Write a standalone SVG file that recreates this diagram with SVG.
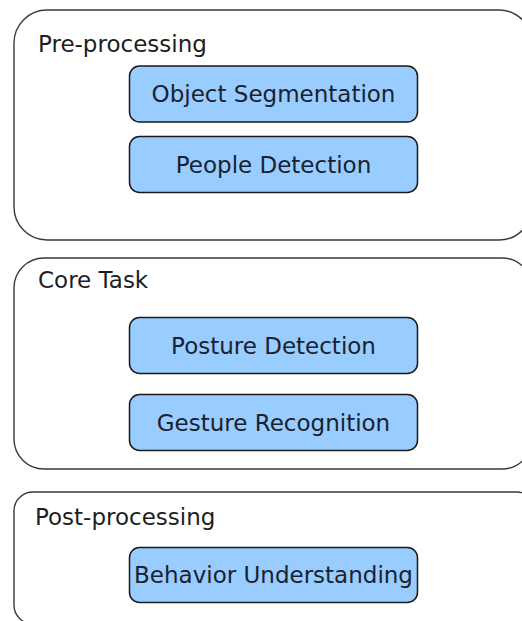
<svg xmlns="http://www.w3.org/2000/svg" width="522" height="621" viewBox="0 0 522 621">
<style>
.grp{fill:#ffffff;stroke:#3a3a3a;stroke-width:1.4}
.box{fill:#99ccff;stroke:#1a1a1a;stroke-width:1.5}
.lbl{font-family:"DejaVu Sans",sans-serif;font-size:23px;fill:#1e1e1e}
.txt{font-family:"DejaVu Sans",sans-serif;font-size:23px;fill:#1a2230;text-anchor:middle}
</style>
<rect width="522" height="621" fill="#ffffff"/>
<g id="pre-processing">
<rect class="grp" x="14" y="10" width="518" height="230" rx="33" ry="33"/>
<text class="lbl" x="38" y="52">Pre-processing</text>
</g>
<g id="object-segmentation">
<rect class="box" x="129.5" y="66" width="288" height="56" rx="10" ry="10"/>
<text class="txt" x="273.5" y="102">Object Segmentation</text>
</g>
<g id="people-detection">
<rect class="box" x="129.5" y="136.5" width="288" height="56" rx="10" ry="10"/>
<text class="txt" x="273.5" y="172.5">People Detection</text>
</g>
<g id="core-task">
<rect class="grp" x="14" y="258" width="518" height="211" rx="30" ry="30"/>
<text class="lbl" x="38" y="288">Core Task</text>
</g>
<g id="posture-detection">
<rect class="box" x="129.5" y="317.5" width="288" height="56" rx="10" ry="10"/>
<text class="txt" x="273.5" y="353.5">Posture Detection</text>
</g>
<g id="gesture-recognition">
<rect class="box" x="129.5" y="394.5" width="288" height="56" rx="10" ry="10"/>
<text class="txt" x="273.5" y="430.5">Gesture Recognition</text>
</g>
<g id="post-processing">
<rect class="grp" x="14" y="492" width="522" height="132" rx="19" ry="19"/>
<text class="lbl" x="35" y="525">Post-processing</text>
</g>
<g id="behavior-understanding">
<rect class="box" x="129.5" y="547.5" width="288" height="55" rx="10" ry="10"/>
<text class="txt" x="273.5" y="582.5">Behavior Understanding</text>
</g>
<g id="connectors"></g>
</svg>
